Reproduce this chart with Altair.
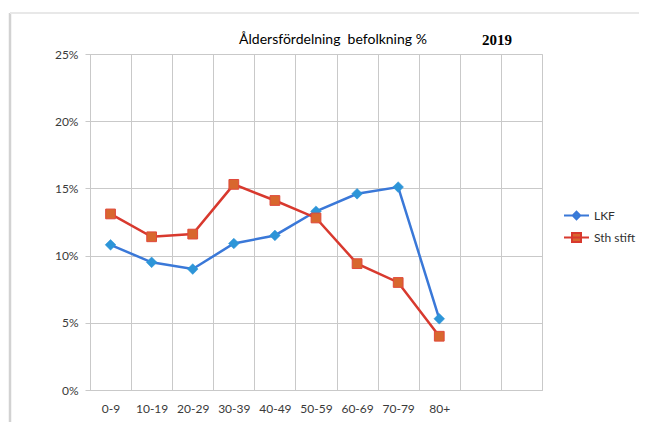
import altair as alt
import pandas as pd

# ---- data ----
categories = ["0-9", "10-19", "20-29", "30-39", "40-49", "50-59", "60-69", "70-79", "80+"]
empty_slots = ["tom1", "tom2"]          # two empty columns at the right of the plot
series_names = ["LKF", "Sth stift"]
lkf = [10.8, 9.5, 9.0, 10.9, 11.5, 13.3, 14.6, 15.1, 5.3]
sth_stift = [13.1, 11.4, 11.6, 15.3, 14.1, 12.8, 9.4, 8.0, 4.0]
y_ticks = [0, 5, 10, 15, 20, 25]
title_text = "Åldersfördelning  befolkning %"
year_text = "2019"

# ---- styling ----
FONT = "Lato"
GRID = "#c9c9c9"
LKF_LINE = "#3a78d8"
LKF_MARK = "#2d95d8"
STH_LINE = "#d8392e"
STH_MARK = "#d8672e"
STH_EDGE = "#e0483b"

W, H = 452, 336
PAD = {"left": 82, "top": 46, "right": 97, "bottom": 32}

df = pd.DataFrame({
    "grupp": categories * 2,
    "serie": [series_names[0]] * len(lkf) + [series_names[1]] * len(sth_stift),
    "andel": [v / 100 for v in lkf + sth_stift],
})

x_enc = alt.X(
    "grupp:N",
    sort=categories + empty_slots,
    scale=alt.Scale(domain=categories + empty_slots, paddingInner=0, paddingOuter=0),
    axis=alt.Axis(
        title=None, grid=True, tickBand="extent", ticks=False, labelAngle=0,
        labelExpr="indexof(['tom1','tom2'], datum.value) >= 0 ? '' : datum.value",
        labelFont=FONT, labelFontSize=12, labelColor="#3a3a3a", labelPadding=13,
        domainColor=GRID, gridColor=GRID,
    ),
)
y_enc = alt.Y(
    "andel:Q",
    scale=alt.Scale(domain=[0, 0.25]),
    axis=alt.Axis(
        title=None, values=[t / 100 for t in y_ticks], format=".0%",
        labelFont=FONT, labelFontSize=12, labelColor="#3a3a3a", labelPadding=7,
        tickSize=5, tickColor=GRID, domainColor=GRID, gridColor=GRID,
    ),
)

base = alt.Chart(df).encode(x=x_enc, y=y_enc)

lkf_line = base.transform_filter(alt.datum.serie == series_names[0]).mark_line(
    color=LKF_LINE, strokeWidth=2.5)
lkf_pts = base.transform_filter(alt.datum.serie == series_names[0]).mark_point(
    shape="diamond", filled=True, size=115, fill=LKF_MARK, opacity=1, stroke=LKF_MARK, strokeWidth=0.5)
sth_line = base.transform_filter(alt.datum.serie == series_names[1]).mark_line(
    color=STH_LINE, strokeWidth=2.5)
sth_pts = base.transform_filter(alt.datum.serie == series_names[1]).mark_point(
    shape="square", filled=True, size=95, fill=STH_MARK, stroke=STH_EDGE, strokeWidth=1, opacity=1)

# legend (line + marker symbols), built from scales only; the layer draws no marks
leg = alt.Legend(
    title=None, orient="none", legendX=473, legendY=148, padding=0,
    symbolSize=625, symbolStrokeWidth=2, labelOffset=4, rowPadding=0,
    labelFont=FONT, labelFontSize=12, labelColor="#303030",
)
legend_layer = base.transform_filter("false").mark_point(filled=True, opacity=1).encode(
    shape=alt.Shape("serie:N", scale=alt.Scale(
        domain=series_names,
        range=["M-1,0H1M0,-0.3L0.3,0L0,0.3L-0.3,0Z",
               "M-1,0H1M-0.36,-0.36H0.36V0.36H-0.36Z"]), legend=leg),
    fill=alt.Fill("serie:N", scale=alt.Scale(domain=series_names, range=[LKF_MARK, STH_MARK]), legend=leg),
    stroke=alt.Stroke("serie:N", scale=alt.Scale(domain=series_names, range=[LKF_LINE, STH_LINE]), legend=leg),
)

one = pd.DataFrame({"t": [title_text.replace("  ", " \u00a0")], "y": [year_text]})
title_mark = alt.Chart(one).mark_text(font=FONT, fontSize=14, color="#000000").encode(
    text="t:N", x=alt.value(243), y=alt.value(-14))
year_mark = alt.Chart(one).mark_text(font="Liberation Serif", fontSize=15, fontWeight="bold",
                                     color="#000000").encode(
    text="y:N", x=alt.value(407), y=alt.value(-14))

# frame shadow of the original picture
frame_left = alt.Chart(one).mark_rule(color="#d2d2d2", strokeWidth=2.5).encode(
    x=alt.value(-80), y=alt.value(-41), y2=alt.value(380))
frame_top = alt.Chart(one).mark_rule(color="#e8e8e8", strokeWidth=2).encode(
    x=alt.value(-80), x2=alt.value(549), y=alt.value(-41))

chart = alt.layer(
    frame_left, frame_top,
    lkf_line, lkf_pts, sth_line, sth_pts, legend_layer,
    title_mark, year_mark,
).properties(
    width=W, height=H,
    autosize=alt.AutoSizeParams(type="none"),
    padding=PAD,
).configure_view(stroke=GRID).configure(background="white")

chart.save("out.html", embed_options={"renderer": "svg", "actions": False})
